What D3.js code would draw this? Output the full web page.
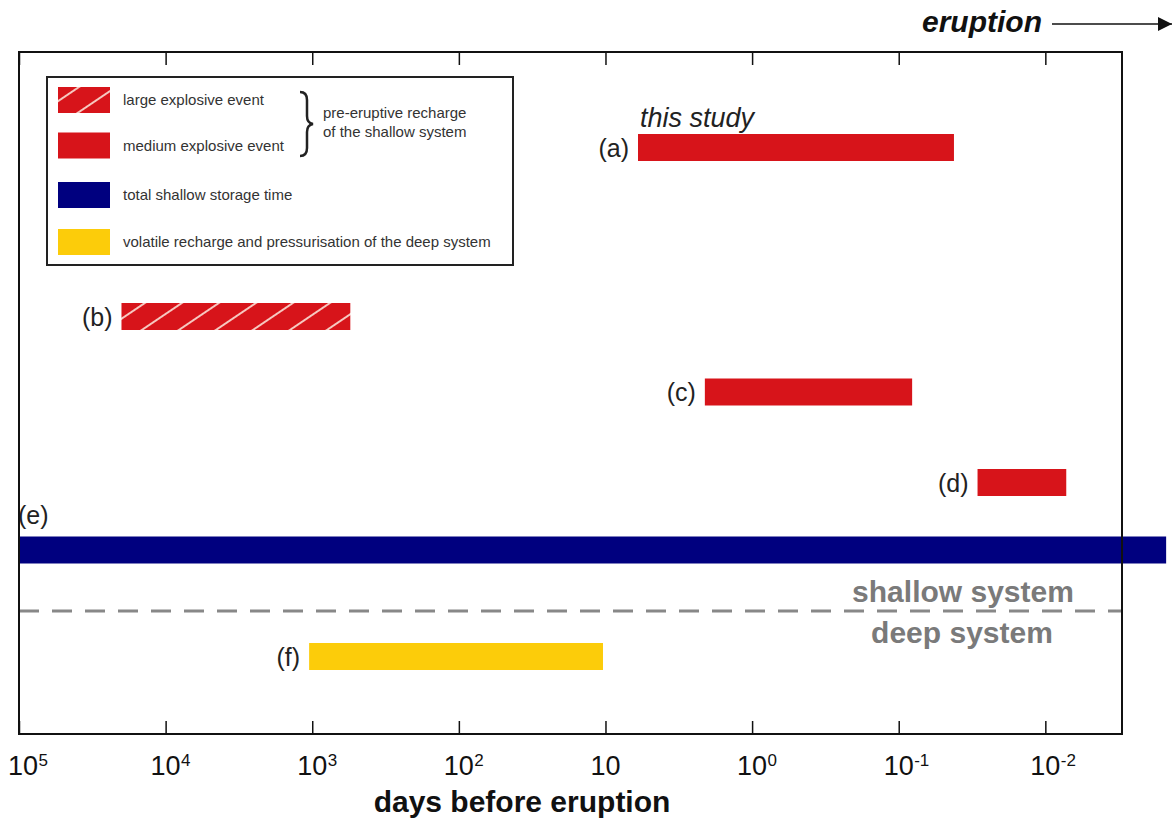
<!DOCTYPE html>
<meta charset="utf-8">
<style>
body { margin: 0; background: #fff; }
svg text { font-family: "Liberation Sans", Arial, sans-serif; }
</style>
<svg width="1174" height="825"></svg>
<script src="https://d3js.org/d3.v7.min.js"></script>
<script>

// data: time windows in days before eruption
var labels = ["(a)", "(b)", "(c)", "(d)", "(e)", "(f)"];
var startDays = [6, 20000, 2.1, 0.029, 1e5, 1050];
var endDays = [0.042, 550, 0.081, 0.0072, 0.0015, 10.4];
var kinds = ["medium", "large", "medium", "medium", "storage", "deep"];

var tickValues = [1e5, 1e4, 1e3, 1e2, 10, 1, 0.1, 0.01];
var tickExp = ["5", "4", "3", "2", "", "0", "-1", "-2"];

var legendLabels = ["large explosive event", "medium explosive event",
  "total shallow storage time", "volatile recharge and pressurisation of the deep system"];
var legendKinds = ["large", "medium", "storage", "deep"];

var svg = d3.select("svg");

var colour = { large: "#d7141a", medium: "#d7141a", storage: "#00007f", deep: "#fccc0a" };

var frameL = 19, frameR = 1122, frameT = 52, frameB = 734;
var x = d3.scaleLog().domain([1e5, 0.003]).range([frameL, frameR]);

// row centre per bar (layout only)
var rowY = { "(a)": 147.5, "(b)": 316.5, "(c)": 392, "(d)": 482.5, "(e)": 550, "(f)": 656.5 };
var barH = 27;

// hatch pattern
var defs = svg.append("defs");
var pat = defs.append("pattern")
    .attr("id", "hatch")
    .attr("patternUnits", "userSpaceOnUse")
    .attr("width", 20.7).attr("height", 40)
    .attr("patternTransform", "rotate(56)");
pat.append("rect").attr("width", 20.7).attr("height", 40).attr("fill", colour.large);
pat.append("line").attr("x1", 1).attr("x2", 1).attr("y1", 0).attr("y2", 40)
    .attr("stroke", "#f6c8c0").attr("stroke-width", 2);

function fillFor(k) { return k == "large" ? "url(#hatch)" : colour[k]; }

// bars
var rows = labels.map(function(l, i) {
  return { label: l, s: startDays[i], e: endDays[i], kind: kinds[i] };
});

svg.selectAll(".bar")
    .data(rows)
    .enter().append("rect")
    .attr("class", "bar")
    .attr("x", function(d) { return x(d.s); })
    .attr("width", function(d) { return x(d.e) - x(d.s); })
    .attr("y", function(d) { return rowY[d.label] - barH / 2; })
    .attr("height", barH)
    .attr("fill", function(d) { return fillFor(d.kind); });

svg.selectAll(".blabel")
    .data(rows)
    .enter().append("text")
    .attr("class", "blabel")
    .attr("x", function(d) { return d.label == "(e)" ? frameL - 1 : x(d.s) - 9; })
    .attr("y", function(d) { return d.label == "(e)" ? rowY[d.label] - 26 : rowY[d.label] + 9; })
    .attr("text-anchor", function(d) { return d.label == "(e)" ? "start" : "end"; })
    .style("font-size", "25px")
    .attr("fill", "#222")
    .text(function(d) { return d.label; });

svg.append("text")
    .attr("x", x(6) + 2).attr("y", 127)
    .style("font-size", "27px").style("font-style", "italic")
    .attr("fill", "#222")
    .text("this study");

// shallow / deep boundary
svg.append("line")
    .attr("x1", frameL).attr("x2", frameR).attr("y1", 611).attr("y2", 611)
    .attr("stroke", "#888").attr("stroke-width", 3)
    .attr("stroke-dasharray", "20,13");
svg.append("text").attr("x", 963).attr("y", 602).attr("text-anchor", "middle")
    .style("font-size", "30px").style("font-weight", "bold").attr("fill", "#7a7a7a")
    .text("shallow system");
svg.append("text").attr("x", 962).attr("y", 643).attr("text-anchor", "middle")
    .style("font-size", "30px").style("font-weight", "bold").attr("fill", "#7a7a7a")
    .text("deep system");

// frame and ticks
svg.append("rect")
    .attr("x", frameL).attr("y", frameT).attr("width", frameR - frameL).attr("height", frameB - frameT)
    .attr("fill", "none").attr("stroke", "#111").attr("stroke-width", 2);

var axisB = svg.append("g")
    .attr("transform", "translate(0," + frameB + ")")
    .call(d3.axisBottom(x).tickValues(tickValues).tickSizeInner(-13).tickSizeOuter(0).tickFormat(""));
axisB.select(".domain").remove();
axisB.selectAll(".tick line").attr("stroke", "#111").attr("stroke-width", 1.5);

var axisT = svg.append("g")
    .attr("transform", "translate(0," + frameT + ")")
    .call(d3.axisTop(x).tickValues(tickValues).tickSizeInner(-13).tickSizeOuter(0).tickFormat(""));
axisT.select(".domain").remove();
axisT.selectAll(".tick line").attr("stroke", "#111").attr("stroke-width", 1.5);

// tick labels: "10" centred on the tick, exponent as superscript
svg.selectAll(".tlabel")
    .data(tickValues)
    .enter().append("text")
    .attr("class", "tlabel")
    .attr("x", function(d, i) { return i == 0 ? x(d) + 4 : x(d); })
    .attr("y", 775)
    .attr("text-anchor", "middle")
    .style("font-size", "27px")
    .attr("fill", "#111")
    .text("10");
svg.selectAll(".tsup")
    .data(tickValues)
    .enter().append("text")
    .attr("class", "tsup")
    .attr("x", function(d, i) { return (i == 0 ? x(d) + 4 : x(d)) + 15.5; })
    .attr("y", 766)
    .style("font-size", "17px")
    .attr("fill", "#111")
    .text(function(d, i) { return tickExp[i]; });

svg.append("text")
    .attr("x", 522).attr("y", 812).attr("text-anchor", "middle")
    .style("font-size", "30px").style("font-weight", "bold").attr("fill", "#111")
    .text("days before eruption");

// eruption arrow
svg.append("text")
    .attr("x", 1042).attr("y", 32).attr("text-anchor", "end")
    .style("font-size", "30px").style("font-weight", "bold").style("font-style", "italic")
    .attr("fill", "#111")
    .text("eruption");
defs.append("marker")
    .attr("id", "arrow").attr("viewBox", "0 0 10 10")
    .attr("refX", 10).attr("refY", 5)
    .attr("markerWidth", 14).attr("markerHeight", 14)
    .attr("markerUnits", "userSpaceOnUse")
    .attr("orient", "auto")
    .append("path").attr("d", "M0,0L10,5L0,10z").attr("fill", "#111");
svg.append("line")
    .attr("x1", 1052).attr("x2", 1172).attr("y1", 24).attr("y2", 24)
    .attr("stroke", "#111").attr("stroke-width", 1.5)
    .attr("marker-end", "url(#arrow)");

// legend
var lg = svg.append("g");
lg.append("rect")
    .attr("x", 47).attr("y", 77).attr("width", 466).attr("height", 188)
    .attr("fill", "#fff").attr("stroke", "#222").attr("stroke-width", 2);
var legendY = [100, 145.5, 195, 242];
var li = lg.selectAll(".li")
    .data(legendLabels)
    .enter().append("g")
    .attr("transform", function(d, i) { return "translate(58," + legendY[i] + ")"; });
li.append("rect")
    .attr("x", 0).attr("y", -13).attr("width", 52).attr("height", 26)
    .attr("fill", function(d, i) { return fillFor(legendKinds[i]); });
li.append("text")
    .attr("x", 65).attr("y", 5)
    .style("font-size", "15px").attr("fill", "#333")
    .text(function(d) { return d; });

lg.append("path")
    .attr("d", "M300,92 Q307,92 307,100 L307,116 Q307,123 313,124 Q307,125 307,132 L307,148 Q307,156 300,156")
    .attr("fill", "none").attr("stroke", "#222").attr("stroke-width", 2.5);
lg.append("text").attr("x", 323).attr("y", 118)
    .style("font-size", "15px").attr("fill", "#333").text("pre-eruptive recharge");
lg.append("text").attr("x", 323).attr("y", 137)
    .style("font-size", "15px").attr("fill", "#333").text("of the shallow system");

</script>
